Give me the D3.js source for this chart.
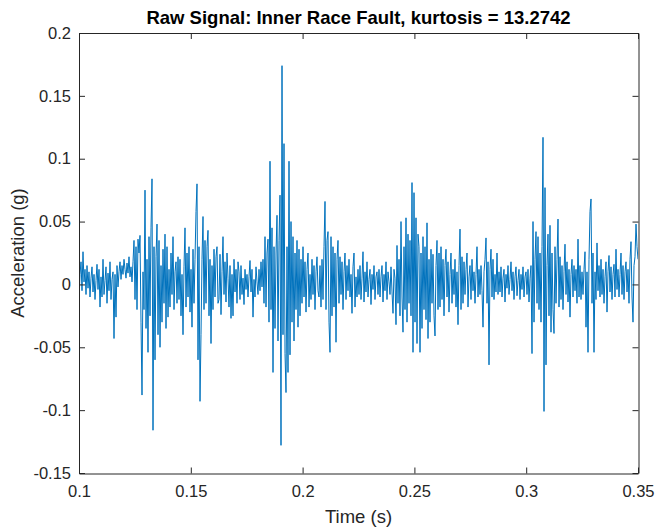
<!DOCTYPE html>
<html>
<head>
<meta charset="utf-8">
<script src="https://cdn.jsdelivr.net/npm/d3@7"></script>
<style>
  body { margin: 0; background: #fff; }
  #chart text { font-family: "Liberation Sans", Arial, sans-serif; }
</style>
</head>
<body>
<div id="chart"></div>
<script>
// time window of the record (s)
var tStart = 0.1
var tEnd = 0.35

var xTicks = [0.1, 0.15, 0.2, 0.25, 0.3, 0.35]
var xTickLabels = ["0.1", "0.15", "0.2", "0.25", "0.3", "0.35"]
var yTicks = [-0.15, -0.1, -0.05, 0, 0.05, 0.1, 0.15, 0.2]
var yTickLabels = ["-0.15", "-0.1", "-0.05", "0", "0.05", "0.1", "0.15", "0.2"]

var accelMg = [
  -14, 8, 18, -5, 26, 2, 12, -8, 15, -3, 10, -10, 5, 14, -6, 8, -12, 3, 16, -4,
  12, -18, 6, -10, 20, -8, 3, 14, -15, 9, -5, 18, -12, 4, 10, -43, 8, -26, 15, -2,
  10, 18, 4, 15, 8, 20, 12, 5, 17, 9, 22, 6, 14, 2, 18, 35, -12, 30, -20, 36,
  25, 39, -30, -88, 10, -20, 75, -35, 20, -54, 38, -25, 45, 84, -116, 30, -60, 22, 48, -40,
  35, -50, 15, -30, 28, -15, 40, -35, 30, -26, 12, -18, 25, -8, 38, -20, 10, 18, -15, 22,
  -12, 20, -25, 8, -40, 14, 45, -18, 25, -10, 30, -22, 12, -34, 28, -15, 20, 58, 80, -60,
  30, -93, -40, 20, 54, -20, 35, -15, 30, 43, -25, 20, -47, 15, -20, 28, -10, 22, 30, -15,
  -12, 24, -24, 10, 38, -8, 18, -14, 25, 5, -18, 15, -27, 8, -25, 20, -6, 12, -15, 18,
  10, -12, 15, -8, 5, -16, 12, -4, 8, -10, 6, 19, -6, 12, -26, 4, -10, 14, 2, -8,
  12, -5, 18, -2, 20, -15, 38, -18, 25, 36, -30, 98, -20, 45, -70, 30, -35, 25, 55, -45,
  35, 71, -128, 174, -40, 112, -55, -86, 30, -70, 98, -56, 50, -30, 38, -45, 25, -20, 35, -34,
  28, -25, 20, -15, 30, -10, 18, -22, 12, 25, -18, 8, -12, 20, -8, 15, -20, 10, 22, -5,
  -10, 15, -18, 20, -12, 30, 66, -20, 35, 42, -30, -54, 38, -25, 30, -18, 25, -46, 20, 35,
  -15, 22, -8, 18, -20, 10, 25, -12, 15, -5, 20, -10, 8, -23, 14, 25, -18, 6, -10, 12,
  -8, 15, -12, 5, 26, -14, 10, -6, 18, -10, 4, 12, -16, 8, -4, 15, -12, 6, 10, -8,
  12, -10, 6, 15, -14, 8, -5, 18, -12, 10, 2, -8, 14, -6, -23, 12, 5, -32, 31, -15,
  20, -25, 50, -10, -38, 30, -20, 53, -30, 40, -15, 35, -25, 81, -54, 73, -30, 53, -47, 40,
  30, -54, 25, -35, 38, -20, 30, -28, 49, -43, 20, -30, 28, -15, 24, -25, -41, 15, 35, -20,
  25, -18, 30, -12, 20, -25, 15, 28, -10, 18, -22, 8, 25, -15, 12, -8, 20, -18, 10, -32,
  15, 44, -20, 22, -15, 18, -8, 12, 25, -18, 6, 15, -12, 20, -5, 10, -15, 8, 30, -10,
  12, -8, 15, -5, -34, 10, 20, 37, -15, 18, -64, 12, 28, -10, 20, -12, 8, -6, 25, -8,
  10, -6, 14, -10, 5, 12, -14, 8, -3, 15, -8, 4, 18, -5, 10, -12, 6, 14, -9, 3,
  12, -12, 8, -4, 14, -10, 6, 10, -8, 12, -14, 5, 15, -55, 50, -30, 20, 42, -15, 38,
  -20, 25, -30, 30, 117, -101, 77, -64, 15, 40, -25, 47, -38, 25, -20, -39, 30, -15, 20, 52,
  -18, 22, -12, 15, -20, 10, 32, -8, 18, -14, 12, -26, 8, 20, -10, 15, -5, 12, -15, 36,
  -10, 15, -12, 10, -8, 12, 26, -34, 10, -54, 20, 58, 68, -15, 25, -54, 10, -12, 33, -5,
  15, -10, 20, -8, 12, -15, 6, 18, -22, 10, 23, -6, 14, -12, 8, 16, -10, 28, -4, 12,
  -10, 8, 25, -8, 15, -12, 10, 18, -6, 12, -15, 20, 34, -10, -30, 15, 22, 48, 30, 20
]

function makeSignalChart() {
    var margin = {top: 33, right: 18, bottom: 56, left: 79},
        width = 656 - margin.left - margin.right,
        height = 529 - margin.top - margin.bottom;

    var dt = (tEnd - tStart) / (accelMg.length - 1)
    var data = accelMg.map(function(v, i) {
        return {t: tStart + i * dt, a: v / 1000};
    });

    var svg = d3.select("#chart")
        .append("svg")
        .attr("width", 656)
        .attr("height", 529)
        .append("g")
        .attr("transform", "translate(" + margin.left + "," + margin.top + ")");

    var x = d3.scaleLinear().domain([tStart, tEnd]).range([0, width]);
    var y = d3.scaleLinear().domain([-0.15, 0.2]).range([height, 0]);

    svg.append("clipPath").attr("id", "plotclip")
        .append("rect")
        .attr("width", width)
        .attr("height", height)

    // the signal
    svg.append("path")
        .datum(data)
        .attr("clip-path", "url(#plotclip)")
        .attr("fill", "none")
        .attr("stroke", "#0072BD")
        .attr("stroke-width", 1)
        .attr("stroke-linejoin", "round")
        .attr("d", d3.line()
            .x(function(d) { return x(d.t) })
            .y(function(d) { return y(d.a) })
        )

    // axes, ticks pointing inward like matlab
    var bottom = svg.append("g")
        .attr("transform", "translate(0," + (height + 0.5) + ")")
        .call(d3.axisBottom(x).tickValues(xTicks)
            .tickFormat(function(d, i) { return xTickLabels[i] })
            .tickSizeInner(-6).tickSizeOuter(0).tickPadding(12));
    var left = svg.append("g")
        .call(d3.axisLeft(y).tickValues(yTicks)
            .tickFormat(function(d, i) { return yTickLabels[i] })
            .tickSizeInner(-6).tickSizeOuter(0).tickPadding(8));
    var top = svg.append("g")
        .call(d3.axisTop(x).tickValues(xTicks).tickFormat("")
            .tickSizeInner(-6).tickSizeOuter(0));
    var right = svg.append("g")
        .attr("transform", "translate(" + (width + 0.5) + ",0)")
        .call(d3.axisRight(y).tickValues(yTicks).tickFormat("")
            .tickSizeInner(-6).tickSizeOuter(0));

    [bottom, left, top, right].forEach(function(g) {
        g.select(".domain").attr("stroke", "#262626")
        g.selectAll(".tick line").attr("stroke", "#262626")
        g.selectAll(".tick text")
            .attr("fill", "#262626")
            .style("font-size", "16.5px")
    })

    svg.append("text")
        .attr("x", width / 2)
        .attr("y", -9.5)
        .attr("text-anchor", "middle")
        .style("font-size", "18.5px")
        .style("font-weight", "bold")
        .attr("fill", "#000")
        .text("Raw Signal: Inner Race Fault, kurtosis = 13.2742");

    svg.append("text")
        .attr("x", width / 2)
        .attr("y", height + 50)
        .attr("text-anchor", "middle")
        .style("font-size", "18.5px")
        .attr("fill", "#262626")
        .text("Time (s)");

    svg.append("text")
        .attr("transform", "translate(" + (24 - margin.left) + "," + (height / 2) + ") rotate(-90)")
        .attr("text-anchor", "middle")
        .style("font-size", "18.5px")
        .attr("fill", "#262626")
        .text("Acceleration (g)");
}
makeSignalChart()
</script>
</body>
</html>
